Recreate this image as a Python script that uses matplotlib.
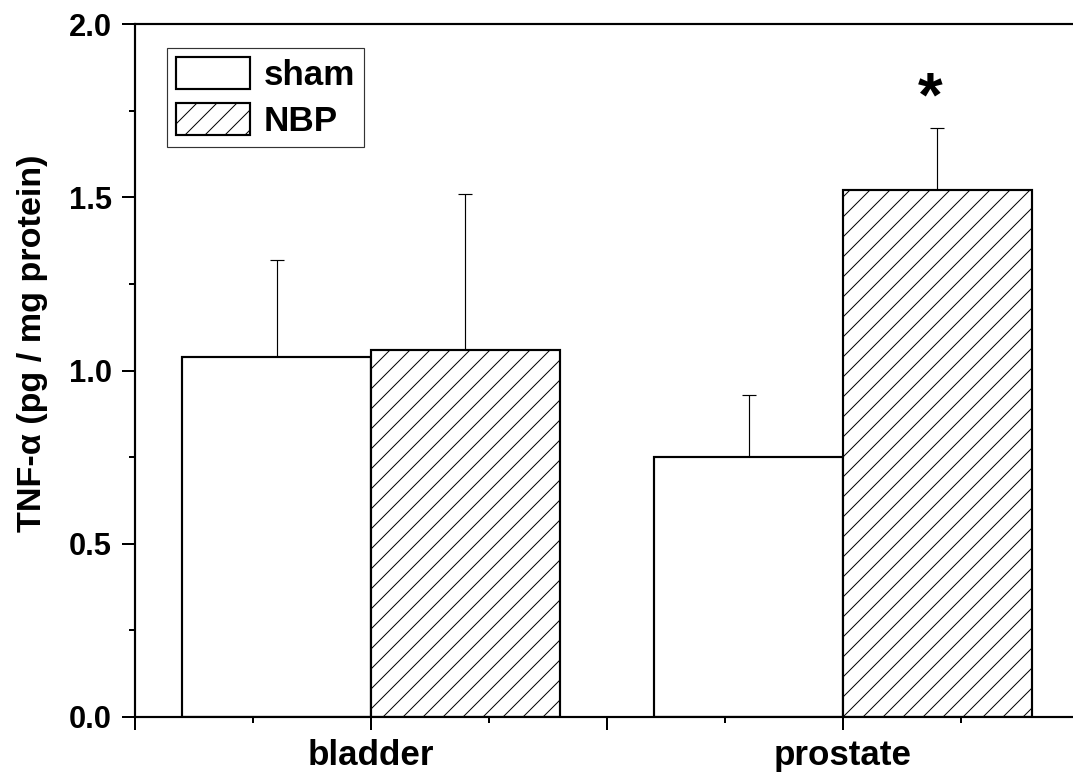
import numpy as np
import matplotlib
matplotlib.use("Agg")
import matplotlib.pyplot as plt

# --------------------------------------------------------
# Data
# --------------------------------------------------------
tissues = ["bladder", "prostate"]
sham_mean = [1.04, 0.75]
sham_err = [0.28, 0.18]
nbp_mean = [1.06, 1.52]
nbp_err = [0.45, 0.18]
signif = ["", "*"]

plt.rcParams["font.family"] = ["Liberation Sans", "DejaVu Sans"]
plt.rcParams["font.weight"] = "bold"
plt.rcParams["hatch.linewidth"] = 0.6
plt.rcParams["hatch.color"] = "black"

fig = plt.figure(figsize=(1073 / 120, 780 / 120), dpi=120)
ax = fig.add_axes([135 / 1073, 63 / 780, 944 / 1073, 693 / 780])

x = np.array([1.0, 3.0])
width = 0.8

ax.bar(x - width / 2, sham_mean, width, color="white", edgecolor="black",
       linewidth=1.3, label="sham", zorder=2)
ax.bar(x + width / 2, nbp_mean, width, color="white", edgecolor="black",
       linewidth=1.3, hatch="//", label="NBP", zorder=2)

# upper error bars only
err_kw = dict(fmt="none", ecolor="black", elinewidth=0.7, capsize=4.2,
              capthick=0.7, zorder=1)
ax.errorbar(x - width / 2, sham_mean, yerr=[np.zeros(2), sham_err], **err_kw)
ax.errorbar(x + width / 2, nbp_mean, yerr=[np.zeros(2), nbp_err], **err_kw)

for xi, s in zip(x + width / 2, signif):
    if s:
        ax.text(xi - 0.03, 1.735, s, ha="center", va="baseline",
                fontsize=38, fontweight="bold")

# axes styling
ax.set_xlim(0, 4)
ax.set_ylim(0, 2.0)
ax.set_xticks([0, 1, 2, 3])
ax.set_xticklabels(["", tissues[0], "", tissues[1]])
ax.set_xticks([0.5, 1.5, 2.5, 3.5], minor=True)
ax.set_yticks([0, 0.5, 1.0, 1.5, 2.0])
ax.set_yticklabels(["0.0", "0.5", "1.0", "1.5", "2.0"])
ax.set_yticks(np.arange(0.25, 2.0, 0.5), minor=True)

ax.tick_params(axis="x", which="major", direction="out", length=8,
               width=1.2, labelsize=21, pad=5)
ax.tick_params(axis="x", which="minor", direction="out", length=3.5, width=1.2)
ax.tick_params(axis="y", which="major", direction="out", length=8,
               width=1.2, labelsize=18.5, pad=6)
ax.tick_params(axis="y", which="minor", direction="out", length=3.5, width=1.2)

for side in ["left", "bottom", "top"]:
    ax.spines[side].set_linewidth(1.3)
ax.spines["right"].set_visible(False)

ax.set_ylabel("TNF-α (pg / mg protein)", fontsize=20.5, fontweight="bold")
ax.yaxis.set_label_coords(-0.092, 0.54)

leg = ax.legend(loc="upper left", bbox_to_anchor=(0.034, 0.965),
                borderaxespad=0, fontsize=21, frameon=True, fancybox=False,
                handlelength=2.1, handleheight=1.0, handletextpad=0.4,
                labelspacing=0.32, borderpad=0.26)
leg.get_frame().set_edgecolor("black")
leg.get_frame().set_linewidth(0.7)
for h in leg.legend_handles:
    h.set_linewidth(1.3)

fig.savefig("out.png", dpi=120)
